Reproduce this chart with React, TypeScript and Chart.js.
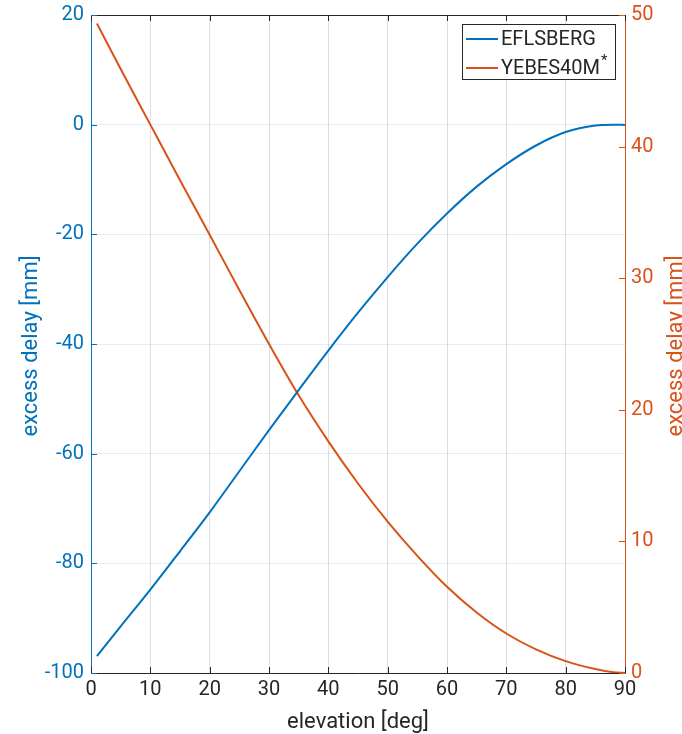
import React, { useEffect, useRef } from 'react';
import { Chart, registerables } from 'chart.js';

Chart.register(...registerables);

// ---- data ----
const elevation = [1, 5, 10, 15, 20, 25, 30, 35, 40, 45, 50, 55, 60, 65, 70, 75, 80, 85, 88, 90];
const effelsbergDelay = [-96.9, -91.5, -84.8, -77.8, -70.7, -63.2, -55.7, -48.4, -41.2, -34.3, -27.8, -21.7, -16.2, -11.3, -7.2, -3.8, -1.35, -0.15, 0, -0.05];
const yebesDelay = [49.35, 45.9, 41.67, 37.45, 33.3, 29.1, 25.0, 21.1, 17.6, 14.4, 11.5, 8.9, 6.55, 4.6, 3.0, 1.8, 0.9, 0.3, 0.06, 0.0];
const xTicks = [0, 10, 20, 30, 40, 50, 60, 70, 80, 90];
const leftTicks = [-100, -80, -60, -40, -20, 0, 20];
const rightTicks = [0, 10, 20, 30, 40, 50];
const seriesNames = ['EFLSBERG', 'YEBES40M'];
const seriesSuperscript = ['', '*'];
const xTitle = 'elevation [deg]';
const yTitle = 'excess delay [mm]';

const BLUE = '#0072BD';
const ORANGE = '#D95319';
const DARK = '#262626';
const FONT = 'Roboto, "Noto Sans", sans-serif';

const matlabPlugin = {
  id: 'matlabDecor',
  afterDraw(chart: any) {
    const { ctx, chartArea, scales } = chart;
    const { left, right, top, bottom } = chartArea;
    const xs = scales.x, yl = scales.y, yr = scales.y2;
    ctx.save();
    // top box line
    ctx.strokeStyle = DARK;
    ctx.lineWidth = 1;
    ctx.beginPath();
    ctx.moveTo(left, Math.round(top) + 0.5);
    ctx.lineTo(right, Math.round(top) + 0.5);
    ctx.stroke();
    // inward ticks
    const tl = 6;
    ctx.strokeStyle = DARK;
    ctx.beginPath();
    xTicks.forEach((v) => {
      const px = Math.round(xs.getPixelForValue(v)) + 0.5;
      ctx.moveTo(px, bottom);
      ctx.lineTo(px, bottom - tl);
      ctx.moveTo(px, top);
      ctx.lineTo(px, top + tl);
    });
    ctx.stroke();
    ctx.strokeStyle = BLUE;
    ctx.beginPath();
    leftTicks.forEach((v) => {
      const py = Math.round(yl.getPixelForValue(v)) + 0.5;
      ctx.moveTo(left, py);
      ctx.lineTo(left + tl, py);
    });
    ctx.stroke();
    ctx.strokeStyle = ORANGE;
    ctx.beginPath();
    rightTicks.forEach((v) => {
      const py = Math.round(yr.getPixelForValue(v)) + 0.5;
      ctx.moveTo(right, py);
      ctx.lineTo(right - tl, py);
    });
    ctx.stroke();

    // axis titles
    ctx.font = `22px ${FONT}`;
    ctx.textAlign = 'center';
    ctx.textBaseline = 'alphabetic';
    ctx.fillStyle = DARK;
    ctx.fillText(xTitle, (left + right) / 2, 728);
    const midY = (top + bottom) / 2 + 2;
    ctx.save();
    ctx.translate(37, midY);
    ctx.rotate(-Math.PI / 2);
    ctx.fillStyle = BLUE;
    ctx.fillText(yTitle, 0, 0);
    ctx.restore();
    ctx.save();
    ctx.translate(682, midY);
    ctx.rotate(-Math.PI / 2);
    ctx.fillStyle = ORANGE;
    ctx.fillText(yTitle, 0, 0);
    ctx.restore();

    // legend
    const bw = 153, bh = 55;
    const bx = Math.round(right - 10 - bw), by = Math.round(top + 9);
    ctx.fillStyle = '#ffffff';
    ctx.fillRect(bx, by, bw, bh);
    ctx.strokeStyle = DARK;
    ctx.lineWidth = 1;
    ctx.strokeRect(bx + 0.5, by + 0.5, bw, bh);
    const colors = [BLUE, ORANGE];
    ctx.textAlign = 'left';
    ctx.textBaseline = 'middle';
    chart.data.datasets.forEach((ds: any, i: number) => {
      const cy = by + 15 + i * 29;
      ctx.strokeStyle = colors[i];
      ctx.lineWidth = 2;
      ctx.beginPath();
      ctx.moveTo(bx + 4, cy);
      ctx.lineTo(bx + 36, cy);
      ctx.stroke();
      ctx.fillStyle = DARK;
      ctx.font = `20px ${FONT}`;
      ctx.fillText(ds.label, bx + 39, cy + 1);
      if (seriesSuperscript[i]) {
        const w = ctx.measureText(ds.label).width;
        ctx.font = `15px ${FONT}`;
        ctx.fillText(seriesSuperscript[i], bx + 40 + w, cy - 7);
      }
    });
    ctx.restore();
  },
};

export default function App() {
  const ref = useRef<HTMLCanvasElement | null>(null);
  useEffect(() => {
    document.body.style.margin = '0';
    const canvas = ref.current!;
    const blueData = elevation.map((e, i) => ({ x: e, y: effelsbergDelay[i] }));
    const orangeData = elevation.map((e, i) => ({ x: e, y: yebesDelay[i] }));
    const chart = new Chart(canvas, {
      type: 'line',
      data: {
        datasets: [
          {
            label: seriesNames[0],
            data: blueData,
            yAxisID: 'y',
            borderColor: BLUE,
            borderWidth: 2,
            pointRadius: 0,
            cubicInterpolationMode: 'monotone',
            fill: false,
          },
          {
            label: seriesNames[1],
            data: orangeData,
            yAxisID: 'y2',
            borderColor: ORANGE,
            borderWidth: 2,
            pointRadius: 0,
            cubicInterpolationMode: 'monotone',
            fill: false,
          },
        ],
      },
      options: {
        responsive: false,
        animation: false,
        layout: { padding: { top: 15, left: 0, right: 0, bottom: 0 } },
        plugins: { legend: { display: false }, tooltip: { enabled: false }, title: { display: false } },
        scales: {
          x: {
            type: 'linear',
            min: 0,
            max: 90,
            afterBuildTicks: (s: any) => { s.ticks = xTicks.map((v) => ({ value: v })); },
            afterFit: (s: any) => { s.height = 61; s.paddingLeft = 0; s.paddingRight = 0; },
            grid: { color: 'rgba(38,38,38,0.15)', drawTicks: false },
            border: { display: true, color: DARK, width: 1 },
            ticks: { color: DARK, font: { family: FONT, size: 20 }, padding: 5, autoSkip: false, maxRotation: 0 },
          },
          y: {
            type: 'linear',
            position: 'left',
            min: -100,
            max: 20,
            afterBuildTicks: (s: any) => { s.ticks = leftTicks.map((v) => ({ value: v })); },
            afterFit: (s: any) => { s.width = 91; s.paddingTop = 0; s.paddingBottom = 0; },
            grid: { color: 'rgba(0,114,189,0.12)', drawTicks: false },
            border: { display: true, color: BLUE, width: 1 },
            ticks: { color: BLUE, font: { family: FONT, size: 20 }, padding: 7, autoSkip: false },
          },
          y2: {
            type: 'linear',
            position: 'right',
            min: 0,
            max: 50,
            afterBuildTicks: (s: any) => { s.ticks = rightTicks.map((v) => ({ value: v })); },
            afterFit: (s: any) => { s.width = 57; s.paddingTop = 0; s.paddingBottom = 0; },
            grid: { drawOnChartArea: false, drawTicks: false },
            border: { display: true, color: ORANGE, width: 1 },
            ticks: { color: ORANGE, font: { family: FONT, size: 20 }, padding: 6, autoSkip: false },
          },
        },
      },
      plugins: [matlabPlugin],
    } as any);
    return () => chart.destroy();
  }, []);
  return <canvas ref={ref} width={682} height={734} style={{ display: 'block' }} />;
}
